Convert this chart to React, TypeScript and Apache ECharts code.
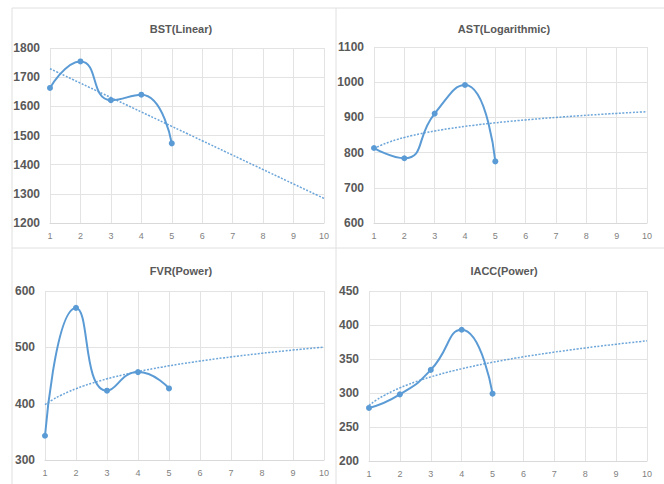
import React, { useEffect, useRef } from "react";
import * as echarts from "echarts";

const xTicks = [1, 2, 3, 4, 5, 6, 7, 8, 9, 10];
const pointX = [1, 2, 3, 4, 5];

const bstValues = [1663, 1754, 1621, 1640, 1473];
const astValues = [813, 784, 911, 992, 775];
const fvrValues = [343, 570, 423, 456, 427];
const iaccValues = [278, 298, 334, 393, 299];

const titles = ["BST(Linear)", "AST(Logarithmic)", "FVR(Power)", "IACC(Power)"];
const trendTypes = ["linear", "log", "power", "power"];
const yMins = [1200, 600, 300, 200];
const yMaxs = [1800, 1100, 600, 450];
const yIntervals = [100, 100, 100, 50];

const BLUE = "#5B9BD5";
const FONT = "'Liberation Sans Narrow', 'Liberation Sans', Arial, sans-serif";

// least-squares regression, as a spreadsheet trendline
function fit(type: string, ys: number[]) {
  const tx = pointX.map((x) => (type === "linear" ? x : Math.log(x)));
  const ty = ys.map((y) => (type === "power" ? Math.log(y) : y));
  const n = tx.length;
  const mx = tx.reduce((a, b) => a + b, 0) / n;
  const my = ty.reduce((a, b) => a + b, 0) / n;
  let sxy = 0, sxx = 0;
  for (let i = 0; i < n; i++) {
    sxy += (tx[i] - mx) * (ty[i] - my);
    sxx += (tx[i] - mx) * (tx[i] - mx);
  }
  const b = sxy / sxx;
  const a = my - b * mx;
  return (x: number) => {
    if (type === "linear") return a + b * x;
    if (type === "log") return a + b * Math.log(x);
    return Math.exp(a + b * Math.log(x));
  };
}

const grids = [
  { left: 50, top: 48, width: 274, height: 175 },
  { left: 374, top: 47, width: 273, height: 176 },
  { left: 45, top: 291, width: 279, height: 169 },
  { left: 369, top: 291, width: 278, height: 170 },
];
const titlePos = [
  { x: 176, y: 18 },
  { x: 499, y: 18 },
  { x: 176, y: 260 },
  { x: 499, y: 260 },
];

export default function App() {
  const ref = useRef<HTMLDivElement>(null);
  useEffect(() => {
    if (!ref.current) return;
    const chart = echarts.init(ref.current, undefined, { renderer: "svg" });
    const allValues = [bstValues, astValues, fvrValues, iaccValues];
    const series: any[] = [];
    allValues.forEach((vals, i) => {
      const f = fit(trendTypes[i], vals);
      const trendX: number[] = [];
      for (let k = 0; k <= 36; k++) trendX.push(1 + k * 0.25);
      series.push({
        type: "line",
        xAxisIndex: i,
        yAxisIndex: i,
        data: trendX.map((x) => [x, f(x)]),
        showSymbol: false,
        smooth: true,
        lineStyle: { color: BLUE, width: 1.5, type: [2, 1.5], opacity: 0.9 },
        z: 2,
      });
      series.push({
        type: "line",
        xAxisIndex: i,
        yAxisIndex: i,
        data: pointX.map((x, k) => [x, vals[k]]),
        smooth: 0.55,
        symbol: "circle",
        symbolSize: 6,
        itemStyle: { color: BLUE },
        lineStyle: { color: BLUE, width: 2 },
        z: 3,
      });
    });
    const option: any = {
      animation: false,
      backgroundColor: "#ffffff",
      title: titles.map((t, i) => ({
        text: t,
        left: titlePos[i].x,
        top: titlePos[i].y,
        textAlign: "center",
        textStyle: { fontFamily: FONT, fontSize: 11, fontWeight: "bold", color: "#595959" },
      })),
      grid: grids,
      xAxis: grids.map((_, i) => ({
        type: "value",
        gridIndex: i,
        min: 1,
        max: 10,
        interval: 1,
        axisLine: { show: true, lineStyle: { color: "#D9D9D9" } },
        axisTick: { show: false },
        splitLine: { show: true, lineStyle: { color: "#E3E3E3" } },
        axisLabel: {
          fontFamily: FONT,
          fontSize: 9,
          color: "#7F7F7F",
          margin: 8,
          formatter: (v: number) => (xTicks.includes(v) ? String(v) : ""),
        },
      })),
      yAxis: grids.map((_, i) => ({
        type: "value",
        gridIndex: i,
        min: yMins[i],
        max: yMaxs[i],
        interval: yIntervals[i],
        axisLine: { show: false },
        axisTick: { show: false },
        splitLine: { show: true, lineStyle: { color: "#E3E3E3" } },
        axisLabel: {
          fontFamily: FONT,
          fontSize: 12,
          fontWeight: "bold",
          color: "#595959",
          margin: 10,
          formatter: (v: number) => String(v),
        },
      })),
      graphic: [
        { type: "line", shape: { x1: 12, y1: 8, x2: 664, y2: 8 }, style: { stroke: "#E0E0E0", lineWidth: 1 } },
        { type: "line", shape: { x1: 12, y1: 248, x2: 664, y2: 248 }, style: { stroke: "#E0E0E0", lineWidth: 1 } },
        { type: "line", shape: { x1: 12, y1: 8, x2: 12, y2: 484 }, style: { stroke: "#E0E0E0", lineWidth: 1 } },
        { type: "line", shape: { x1: 336, y1: 8, x2: 336, y2: 484 }, style: { stroke: "#E0E0E0", lineWidth: 1 } },
      ],
      series,
    };
    chart.setOption(option);
    return () => chart.dispose();
  }, []);
  return (
    <div
      ref={ref}
      style={{ position: "absolute", left: 0, top: 0, width: 664, height: 484 }}
    />
  );
}
